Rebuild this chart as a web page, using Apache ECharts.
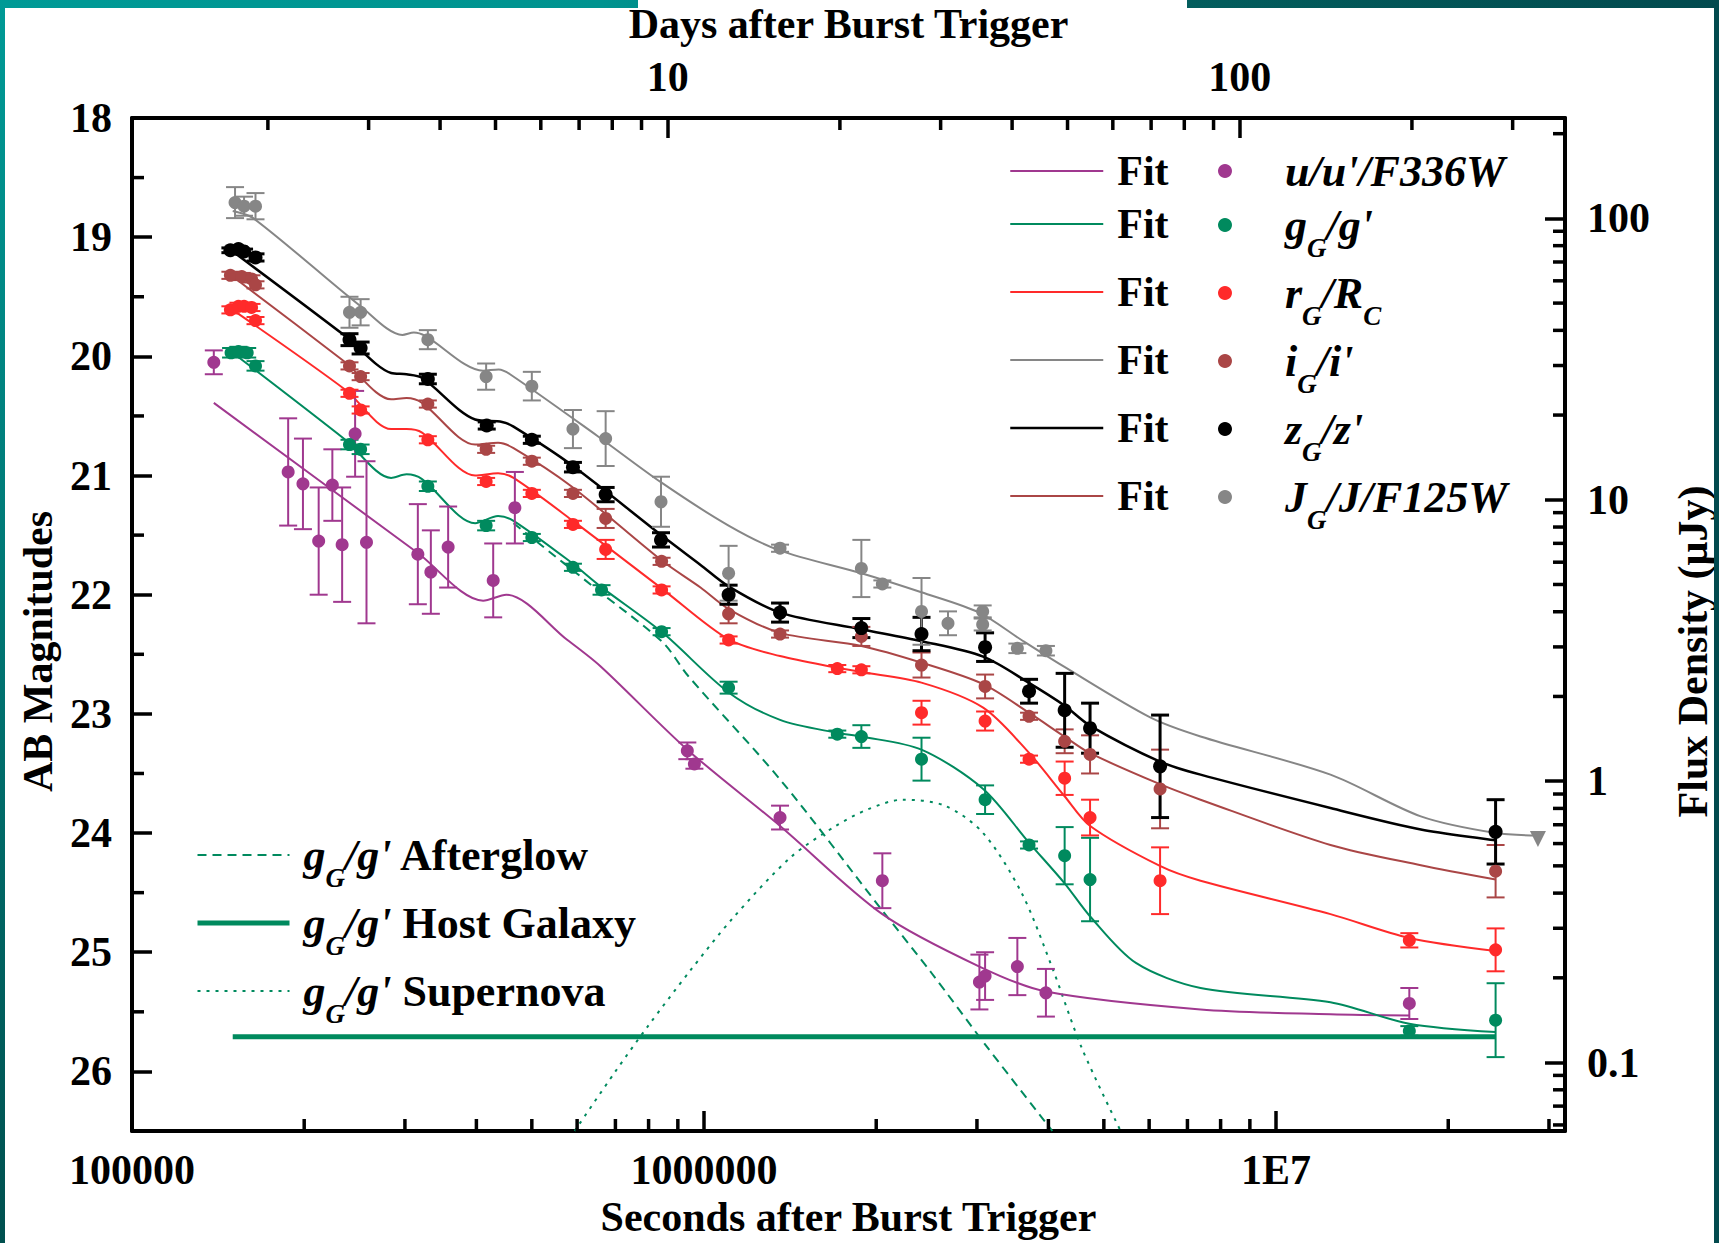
<!DOCTYPE html>
<html>
<head>
<meta charset="utf-8">
<script src="https://cdn.jsdelivr.net/npm/echarts@6/dist/echarts.min.js"></script>
<style>
  html, body { margin: 0; padding: 0; background: #fff; }
  #chart { position: absolute; left: 0; top: 0; width: 1719px; height: 1243px; }
  .strip { position: absolute; z-index: 5; }
</style>
</head>
<body>
<div id="chart"></div>
<!-- slide frame around the figure -->
<div class="strip" style="left:0;top:0;width:1719px;height:8px;background:linear-gradient(to right,#009a96,#00938f 35%,#03605f 65%,#024a4e);"></div>
<div class="strip" style="left:638px;top:0;width:549px;height:8px;background:#fff;"></div>
<div class="strip" style="left:0;top:0;width:5px;height:1243px;background:linear-gradient(to bottom,#009a96,#00504f);"></div>
<div class="strip" style="left:1714px;top:0;width:5px;height:1243px;background:#024a4e;"></div>

<script>
// axis ranges
const T_MIN = 1e5, T_MAX = 3.2e7, DAY = 86400;
const MAG_MIN = 18, MAG_MAX = 26.5;
const FLUX_MIN = 0.0571, FLUX_MAX = 227.4;

// tick labels
const secTickValues = [1e5, 1e6, 1e7];
const secTickLabels = ['100000', '1000000', '1E7'];
const secMinorTicks = [2e5, 3e5, 4e5, 5e5, 6e5, 7e5, 8e5, 9e5, 2e6, 3e6, 4e6, 5e6, 6e6, 7e6, 8e6, 9e6, 2e7, 3e7];
const dayTickValues = [10, 100];
const dayTickLabels = ['10', '100'];
const dayMinorTicks = [2, 3, 4, 5, 6, 7, 8, 9, 20, 30, 40, 50, 60, 70, 80, 90, 200, 300];
const magMinorTicks = [18.5, 19.5, 20.5, 21.5, 22.5, 23.5, 24.5, 25.5];
const fluxTickValues = [0.1, 1, 10, 100];
const fluxTickLabels = ['0.1', '1', '10', '100'];
const fluxMinorTicks = [0.06, 0.07, 0.08, 0.09, 0.2, 0.3, 0.4, 0.5, 0.6, 0.7, 0.8, 0.9,
  2, 3, 4, 5, 6, 7, 8, 9, 20, 30, 40, 50, 60, 70, 80, 90, 200];

// photometry: [seconds, AB mag, error]
const uPts = [[1.39e5, 20.05, 0.10], [1.875e5, 20.97, 0.45], [1.99e5, 21.07, 0.38], [2.12e5, 21.55, 0.45],
  [2.24e5, 21.08, 0.30], [2.33e5, 21.58, 0.48], [2.455e5, 20.65, 0.36], [2.57e5, 21.56, 0.68],
  [3.16e5, 21.66, 0.42], [3.33e5, 21.81, 0.35], [3.57e5, 21.60, 0.34], [4.28e5, 21.88, 0.31],
  [4.67e5, 21.27, 0.30], [9.35e5, 23.31, 0.07], [9.62e5, 23.42, 0.04], [1.358e6, 23.87, 0.10],
  [2.05e6, 24.40, 0.23], [3.03e6, 25.25, 0.23], [3.10e6, 25.20, 0.20], [3.53e6, 25.12, 0.24],
  [3.96e6, 25.34, 0.20], [1.71e7, 25.43, 0.13]];
const gPts = [[1.49e5, 19.97, 0.04], [1.535e5, 19.96, 0.04], [1.59e5, 19.97, 0.04], [1.644e5, 20.08, 0.04],
  [2.40e5, 20.74, 0.04], [2.51e5, 20.78, 0.04], [3.29e5, 21.09, 0.04], [4.16e5, 21.42, 0.04],
  [5.00e5, 21.52, 0.03], [5.90e5, 21.77, 0.03], [6.62e5, 21.96, 0.04], [8.43e5, 22.31, 0.03],
  [1.104e6, 22.78, 0.05], [1.71e6, 23.17, 0.03], [1.884e6, 23.19, 0.095], [2.40e6, 23.38, 0.18],
  [3.10e6, 23.72, 0.12], [3.70e6, 24.10, 0.03], [4.27e6, 24.19, 0.24], [4.73e6, 24.39, 0.35],
  [1.71e7, 25.66, 0.04], [2.42e7, 25.57, 0.31]];
const rPts = [[1.486e5, 19.61, 0.03], [1.535e5, 19.58, 0.03], [1.57e5, 19.58, 0.03], [1.618e5, 19.59, 0.03],
  [1.644e5, 19.70, 0.03], [2.40e5, 20.31, 0.03], [2.51e5, 20.45, 0.03], [3.29e5, 20.70, 0.03],
  [4.16e5, 21.05, 0.03], [5.00e5, 21.15, 0.03], [5.90e5, 21.41, 0.03], [6.73e5, 21.62, 0.08],
  [8.43e5, 21.96, 0.03], [1.104e6, 22.38, 0.03], [1.71e6, 22.62, 0.03], [1.884e6, 22.63, 0.03],
  [2.40e6, 22.99, 0.10], [3.10e6, 23.06, 0.08], [3.70e6, 23.38, 0.03], [4.27e6, 23.54, 0.14],
  [4.73e6, 23.87, 0.15], [6.27e6, 24.40, 0.28], [1.71e7, 24.90, 0.06], [2.42e7, 24.98, 0.18]];
const iPts = [[1.486e5, 19.32, 0.03], [1.556e5, 19.33, 0.03], [1.618e5, 19.35, 0.03], [1.644e5, 19.40, 0.03],
  [2.40e5, 20.08, 0.03], [2.51e5, 20.17, 0.03], [3.29e5, 20.40, 0.03], [4.16e5, 20.78, 0.03],
  [5.00e5, 20.88, 0.03], [5.90e5, 21.15, 0.03], [6.73e5, 21.36, 0.08], [8.43e5, 21.72, 0.03],
  [1.104e6, 22.16, 0.08], [1.358e6, 22.33, 0.03], [1.884e6, 22.35, 0.08], [2.40e6, 22.59, 0.105],
  [3.10e6, 22.77, 0.10], [3.70e6, 23.02, 0.03], [4.27e6, 23.23, 0.10], [4.73e6, 23.34, 0.16],
  [6.27e6, 23.63, 0.33], [2.42e7, 24.32, 0.22]];
const zPts = [[1.486e5, 19.11, 0.02], [1.535e5, 19.10, 0.02], [1.57e5, 19.12, 0.02], [1.644e5, 19.17, 0.03],
  [2.40e5, 19.86, 0.05], [2.51e5, 19.93, 0.05], [3.29e5, 20.19, 0.04], [4.17e5, 20.58, 0.03],
  [5.00e5, 20.70, 0.03], [5.90e5, 20.93, 0.04], [6.73e5, 21.16, 0.06], [8.41e5, 21.54, 0.06],
  [1.104e6, 22.00, 0.08], [1.358e6, 22.15, 0.08], [1.884e6, 22.28, 0.08], [2.40e6, 22.33, 0.14],
  [3.10e6, 22.44, 0.12], [3.70e6, 22.81, 0.10], [4.27e6, 22.97, 0.31], [4.73e6, 23.12, 0.21],
  [6.27e6, 23.44, 0.43], [2.42e7, 23.99, 0.27]];
const jPts = [[1.514e5, 18.71, 0.13], [1.57e5, 18.74, 0.08], [1.644e5, 18.74, 0.11], [2.40e5, 19.63, 0.13],
  [2.51e5, 19.63, 0.11], [3.29e5, 19.86, 0.08], [4.16e5, 20.17, 0.11], [5.00e5, 20.25, 0.12],
  [5.90e5, 20.61, 0.16], [6.73e5, 20.69, 0.23], [8.41e5, 21.22, 0.21], [1.104e6, 21.82, 0.23],
  [1.358e6, 21.61, 0.03], [1.884e6, 21.78, 0.24], [2.05e6, 21.91, 0.03], [2.40e6, 22.14, 0.28],
  [2.67e6, 22.24, 0.10], [3.07e6, 22.14, 0.05], [3.07e6, 22.25, 0.05], [3.53e6, 22.45, 0.04],
  [3.96e6, 22.47, 0.04]];
const jLimit = [[2.87e7, 24.05]];

// model curves: [seconds, AB mag]
const uFit = [[1.39e5, 20.39], [3.16e5, 21.65], [4.11e5, 22.05], [4.51e5, 22.00], [5.77e5, 22.38],
  [6.59e5, 22.60], [9.35e5, 23.30], [1.358e6, 23.94], [2.05e6, 24.68], [3.03e6, 25.12], [3.96e6, 25.33],
  [7.38e6, 25.48], [1.245e7, 25.52], [1.71e7, 25.53]];
const gFit = [[1.5e5, 19.97], [2.36e5, 20.70], [2.838e5, 21.02], [3.02e5, 20.99], [3.214e5, 21.03],
  [3.98e5, 21.40], [4.365e5, 21.34], [4.645e5, 21.38], [5.861e5, 21.73], [6.59e5, 21.93], [8.47e5, 22.32],
  [1.104e6, 22.82], [1.358e6, 23.05], [1.71e6, 23.16], [1.884e6, 23.19], [2.399e6, 23.30], [3.076e6, 23.63],
  [3.698e6, 24.08], [4.266e6, 24.42], [4.732e6, 24.70], [5.689e6, 25.09], [7.379e6, 25.30], [1.245e7, 25.42],
  [1.71e7, 25.60], [2.42e7, 25.67]];
const rFit = [[1.5e5, 19.61], [2.36e5, 20.28], [2.838e5, 20.61], [3.02e5, 20.61], [3.214e5, 20.64],
  [3.98e5, 21.00], [4.365e5, 20.98], [4.645e5, 21.02], [5.861e5, 21.37], [8.47e5, 21.955], [1.104e6, 22.375],
  [1.358e6, 22.515], [1.71e6, 22.613], [1.884e6, 22.649], [2.399e6, 22.738], [3.076e6, 22.948],
  [3.698e6, 23.326], [4.266e6, 23.689], [4.732e6, 23.941], [6.266e6, 24.276], [7.379e6, 24.40],
  [1.245e7, 24.68], [1.71e7, 24.88], [2.421e7, 24.99]];
const iFit = [[1.5e5, 19.33], [2.36e5, 20.05], [2.838e5, 20.36], [3.02e5, 20.35], [3.214e5, 20.39],
  [3.98e5, 20.74], [4.365e5, 20.725], [4.645e5, 20.77], [5.861e5, 21.09], [8.47e5, 21.72], [9.86e5, 21.94],
  [1.104e6, 22.12], [1.358e6, 22.32], [1.884e6, 22.43], [2.399e6, 22.57], [3.076e6, 22.75], [3.698e6, 22.99],
  [4.266e6, 23.19], [4.732e6, 23.33], [6.266e6, 23.59], [7.379e6, 23.72], [1.245e7, 24.10], [1.791e7, 24.27],
  [2.421e7, 24.39]];
const zFit = [[1.5e5, 19.12], [2.36e5, 19.83], [2.838e5, 20.14], [3.02e5, 20.15], [3.214e5, 20.18],
  [3.98e5, 20.53], [4.436e5, 20.55], [4.645e5, 20.59], [5.861e5, 20.91], [8.47e5, 21.51], [9.86e5, 21.75],
  [1.104e6, 21.93], [1.358e6, 22.15], [1.884e6, 22.29], [2.399e6, 22.39], [3.076e6, 22.52], [3.698e6, 22.74],
  [4.266e6, 22.93], [4.732e6, 23.10], [6.266e6, 23.40], [7.379e6, 23.51], [1.245e7, 23.79], [1.791e7, 23.97],
  [2.421e7, 24.06]];
const jFit = [[1.5e5, 18.78], [1.629e5, 18.84], [2.51e5, 19.58], [2.97e5, 19.82], [3.11e5, 19.80],
  [3.26e5, 19.83], [4.11e5, 20.12], [4.375e5, 20.11], [4.58e5, 20.15], [6.52e5, 20.67], [8.43e5, 21.06],
  [1.104e6, 21.42], [1.358e6, 21.63], [1.884e6, 21.82], [2.399e6, 21.98], [3.027e6, 22.15], [3.589e6, 22.38],
  [4.246e6, 22.60], [6.026e6, 23.03], [7.379e6, 23.19], [1.245e7, 23.51], [1.791e7, 23.86], [2.421e7, 24.00],
  [2.871e7, 24.02]];
const afterglow = [[4.645e5, 21.40], [6.59e5, 21.98], [8.47e5, 22.40], [9.376e5, 22.68], [1.358e6, 23.55],
  [2.042e6, 24.64], [2.495e6, 25.17], [3.119e6, 25.79], [4.064e6, 26.5]];
const hostGalaxy = [[1.5e5, 25.71], [2.42e7, 25.71]];
const supernova = [[5.94e5, 26.5], [7.0e5, 26.0], [7.98e5, 25.62], [9.44e5, 25.16], [1.12e6, 24.72],
  [1.42e6, 24.20], [1.70e6, 23.94], [1.936e6, 23.80], [2.223e6, 23.72], [2.636e6, 23.77], [3.076e6, 24.00],
  [3.589e6, 24.50], [4.055e6, 25.12], [4.581e6, 25.81], [5.35e6, 26.5]];

const colU = '#a0388f', colG = '#008a5e', colR = '#ff2a2a', colI = '#aa4646', colZ = '#000000', colJ = '#868686';
const FONT = 'Liberation Serif, Times New Roman, serif';

const axisFont = { fontFamily: FONT, fontWeight: 'bold', fontSize: 42, color: '#000' };
const frameLine = { color: '#000', width: 4 };
const tickLine = { color: '#000', width: 3.5 };

function tickLabeler(values, labels) {
  return function (v) {
    const i = values.findIndex(t => Math.abs(Math.log10(v) - Math.log10(t)) < 1e-6);
    return i < 0 ? '' : labels[i];
  };
}

function minorTickSeries(values, side, xAxisIndex, yAxisIndex) {
  return {
    type: 'custom', xAxisIndex: xAxisIndex, yAxisIndex: yAxisIndex, silent: true, z: 10, clip: false,
    data: values.map(v => [v]),
    renderItem: function (params, api) {
      const cs = params.coordSys, v = api.value(0), L = 12;
      let s;
      if (side === 'bottom') {
        const x = api.coord([v, MAG_MIN])[0];
        s = { x1: x, y1: cs.y + cs.height, x2: x, y2: cs.y + cs.height - L };
      } else if (side === 'top') {
        const x = api.coord([v, MAG_MIN])[0];
        s = { x1: x, y1: cs.y, x2: x, y2: cs.y + L };
      } else if (side === 'left') {
        const y = api.coord([T_MIN, v])[1];
        s = { x1: cs.x, y1: y, x2: cs.x + L, y2: y };
      } else {
        const y = api.coord([T_MIN, v])[1];
        s = { x1: cs.x + cs.width, y1: y, x2: cs.x + cs.width - L, y2: y };
      }
      return { type: 'line', shape: s, style: { stroke: '#000', lineWidth: 3.5 } };
    }
  };
}

function errorBarSeries(points, color, width) {
  return {
    type: 'custom', data: points, encode: { x: 0, y: 1 }, z: 3, silent: true,
    renderItem: function (params, api) {
      const t = api.value(0), m = api.value(1), e = api.value(2);
      const a = api.coord([t, m - e]), b = api.coord([t, m + e]);
      const w = 9;
      const st = () => ({ stroke: color, lineWidth: width });
      return {
        type: 'group', children: [
          { type: 'line', shape: { x1: a[0], y1: a[1], x2: b[0], y2: b[1] }, style: st() },
          { type: 'line', shape: { x1: a[0] - w, y1: a[1], x2: a[0] + w, y2: a[1] }, style: st() },
          { type: 'line', shape: { x1: b[0] - w, y1: b[1], x2: b[0] + w, y2: b[1] }, style: st() }
        ]
      };
    }
  };
}

function pointSeries(name, points, color, size) {
  return {
    type: 'scatter', name: name, data: points.map(p => [p[0], p[1]]), symbol: 'circle', symbolSize: size,
    itemStyle: { color: color, opacity: 1 }, z: 4, emphasis: { disabled: true }
  };
}

function curveSeries(name, pts, color, width, type) {
  return {
    type: 'line', name: name, data: pts, symbol: 'none', smooth: 0.3, z: 2,
    lineStyle: { color: color, width: width, type: type || 'solid' }, itemStyle: { color: color },
    emphasis: { disabled: true }
  };
}

const markerLabels = {
  u: "{m|u/u'/F336W}",
  g: "{m|g}{s|G}{m|/g'}",
  r: '{m|r}{s|G}{m|/R}{s|C}',
  i: "{m|i}{s|G}{m|/i'}",
  z: "{m|z}{s|G}{m|/z'}",
  J: '{m|J}{s|G}{m|/J/F125W}'
};
const componentLabels = {
  'Afterglow': "{m|g}{s|G}{m|/g'}{b| Afterglow}",
  'Host Galaxy': "{m|g}{s|G}{m|/g'}{b| Host Galaxy}",
  'Supernova': "{m|g}{s|G}{m|/g'}{b| Supernova}"
};
const richStyles = {
  m: { fontFamily: FONT, fontSize: 44, fontWeight: 'bold', fontStyle: 'italic', lineHeight: 44, verticalAlign: 'top', color: '#000' },
  s: { fontFamily: FONT, fontSize: 27, fontWeight: 'bold', fontStyle: 'italic', lineHeight: 58, verticalAlign: 'bottom', color: '#000' },
  b: { fontFamily: FONT, fontSize: 44, fontWeight: 'bold', lineHeight: 44, verticalAlign: 'top', color: '#000' }
};

const chart = echarts.init(document.getElementById('chart'), null, { renderer: 'svg', width: 1719, height: 1243 });

chart.setOption({
  animation: false,
  backgroundColor: '#fff',
  grid: { left: 132, right: 154, top: 118, bottom: 112, containLabel: false, outerBoundsMode: 'none' },
  xAxis: [
    {
      type: 'log', logBase: 10, min: T_MIN, max: T_MAX, position: 'bottom',
      axisLine: { onZero: false, lineStyle: frameLine },
      axisTick: { inside: true, length: 20, lineStyle: tickLine },
      axisLabel: Object.assign({}, axisFont, { margin: 18, formatter: tickLabeler(secTickValues, secTickLabels), showMaxLabel: false }),
      splitLine: { show: false },
      name: 'Seconds after Burst Trigger', nameLocation: 'middle', nameGap: 61, nameTextStyle: axisFont
    },
    {
      type: 'log', logBase: 10, min: T_MIN / DAY, max: T_MAX / DAY, position: 'top',
      axisLine: { onZero: false, lineStyle: frameLine },
      axisTick: { inside: true, length: 20, lineStyle: tickLine },
      axisLabel: Object.assign({}, axisFont, { margin: 20, formatter: tickLabeler(dayTickValues, dayTickLabels), showMinLabel: false, showMaxLabel: false }),
      splitLine: { show: false },
      name: 'Days after Burst Trigger', nameLocation: 'middle', nameGap: 73, nameTextStyle: axisFont
    }
  ],
  yAxis: [
    {
      type: 'value', inverse: true, min: MAG_MIN, max: MAG_MAX, interval: 1, position: 'left',
      axisLine: { onZero: false, lineStyle: frameLine },
      axisTick: { inside: true, length: 20, lineStyle: tickLine },
      axisLabel: Object.assign({}, axisFont, { margin: 20, formatter: v => (Number.isInteger(v) ? String(v) : '') }),
      splitLine: { show: false },
      name: 'AB Magnitudes', nameLocation: 'middle', nameGap: 67, nameRotate: 90,
      nameTextStyle: Object.assign({}, axisFont, { padding: [0, 54, 0, 0] })
    },
    {
      type: 'log', logBase: 10, min: FLUX_MIN, max: FLUX_MAX, position: 'right',
      axisLine: { onZero: false, lineStyle: frameLine },
      axisTick: { inside: true, length: 20, lineStyle: tickLine },
      axisLabel: Object.assign({}, axisFont, { margin: 22, formatter: tickLabeler(fluxTickValues, fluxTickLabels), showMinLabel: false, showMaxLabel: false }),
      splitLine: { show: false },
      name: 'Flux Density (μJy)', nameLocation: 'middle', nameGap: 107, nameRotate: 90,
      nameTextStyle: Object.assign({}, axisFont, { padding: [0, 54, 0, 0] })
    }
  ],
  legend: [
    {
      // fit lines
      orient: 'vertical', left: 1009, top: 150, padding: 0, itemGap: -4, selectedMode: false,
      itemWidth: 93, itemHeight: 14,
      itemStyle: { opacity: 0 }, lineStyle: { width: 'inherit' },
      textStyle: { fontFamily: FONT, fontSize: 42, fontWeight: 'bold', lineHeight: 42, color: '#000' },
      formatter: () => 'Fit',
      data: [
        { name: 'Fit u', textStyle: { padding: [0, 0, 0, 9] } },
        { name: 'Fit g', textStyle: { padding: [15, 0, 15, 9] } },
        { name: 'Fit r', textStyle: { padding: [15, 0, 15, 9] } },
        { name: 'Fit J', textStyle: { padding: [15, 0, 15, 9] } },
        { name: 'Fit z', textStyle: { padding: [15, 0, 15, 9] } },
        { name: 'Fit i', textStyle: { padding: [15, 0, 15, 9] } }
      ]
    },
    {
      // photometric bands
      orient: 'vertical', left: 1218, top: 149, padding: 0, itemGap: -4, selectedMode: false,
      itemWidth: 14, itemHeight: 14,
      textStyle: { fontFamily: FONT, fontSize: 44, fontWeight: 'bold', color: '#000', backgroundColor: 'transparent', rich: richStyles },
      formatter: name => markerLabels[name],
      data: [
        { name: 'u', textStyle: { padding: [0, 0, 0, 48] } },
        { name: 'g', textStyle: { padding: [14, 0, 0, 48] } },
        { name: 'r', textStyle: { padding: [14, 0, 0, 48] } },
        { name: 'i', textStyle: { padding: [14, 0, 0, 48] } },
        { name: 'z', textStyle: { padding: [14, 0, 0, 48] } },
        { name: 'J', textStyle: { padding: [14, 0, 0, 48] } }
      ]
    },
    {
      // g-band model components
      orient: 'vertical', left: 195, top: 819, padding: 0, itemGap: -4, selectedMode: false,
      itemWidth: 92, itemHeight: 14,
      itemStyle: { opacity: 0 }, lineStyle: { width: 'inherit' },
      textStyle: { fontFamily: FONT, fontSize: 44, fontWeight: 'bold', color: '#000', backgroundColor: 'transparent', rich: richStyles, padding: [14, 0, 0, 9] },
      formatter: name => componentLabels[name],
      data: ['Afterglow', 'Host Galaxy', 'Supernova']
    }
  ],
  series: [
    minorTickSeries(secMinorTicks, 'bottom', 0, 0),
    minorTickSeries(dayMinorTicks, 'top', 1, 0),
    minorTickSeries(magMinorTicks, 'left', 0, 0),
    minorTickSeries(fluxMinorTicks, 'right', 0, 1),

    curveSeries('Host Galaxy', hostGalaxy, colG, 5),
    curveSeries('Afterglow', afterglow, colG, 2, [9, 6]),
    curveSeries('Supernova', supernova, colG, 2, [3, 6]),

    curveSeries('Fit u', uFit, colU, 2),
    curveSeries('Fit g', gFit, colG, 2),
    curveSeries('Fit r', rFit, colR, 2),
    curveSeries('Fit J', jFit, colJ, 2),
    curveSeries('Fit z', zFit, colZ, 2.5),
    curveSeries('Fit i', iFit, colI, 2),

    errorBarSeries(uPts, colU, 2),
    errorBarSeries(gPts, colG, 2),
    errorBarSeries(rPts, colR, 2),
    errorBarSeries(iPts, colI, 2),
    errorBarSeries(zPts, colZ, 3),
    errorBarSeries(jPts, colJ, 2),

    pointSeries('u', uPts, colU, 13),
    pointSeries('g', gPts, colG, 13),
    pointSeries('r', rPts, colR, 13),
    pointSeries('i', iPts, colI, 13),
    pointSeries('z', zPts, colZ, 14),
    pointSeries('J', jPts, colJ, 13),
    {
      type: 'scatter', name: 'J limit', data: jLimit, symbol: 'triangle', symbolRotate: 180, symbolSize: 16,
      itemStyle: { color: colJ, opacity: 1 }, z: 4
    }
  ]
});
</script>
</body>
</html>
